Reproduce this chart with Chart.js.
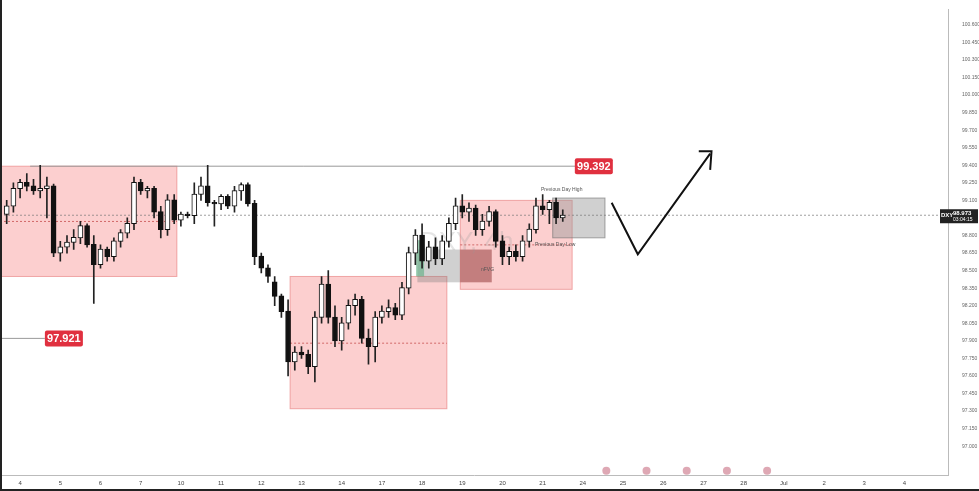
<!DOCTYPE html>
<html><head><meta charset="utf-8">
<script src="https://cdn.jsdelivr.net/npm/chart.js@4"></script>
<style>html,body{margin:0;padding:0;background:#fff}#wrap{width:979px;height:491px}</style>
</head><body><div id="wrap"><canvas id="c" width="979" height="491"></canvas></div>
<script>
const dayLabels = ["4","5","6","7","10","11","12","13","14","17","18","19","20","21","24","25","26","27","28","Jul","2","3","4"];
// [open, high, low, close] per 4h candle
const candles = [
[98.98,99.10,98.90,99.05],[99.05,99.25,99.00,99.20],[99.20,99.28,99.12,99.25],[99.25,99.33,99.18,99.22],
[99.22,99.28,99.15,99.18],[99.18,99.40,99.12,99.20],[99.20,99.30,98.95,99.22],[99.22,99.24,98.62,98.65],
[98.65,98.75,98.58,98.70],[98.70,98.80,98.65,98.74],[98.74,98.85,98.68,98.78],[98.78,98.92,98.73,98.88],
[98.88,98.90,98.70,98.72],[98.72,98.80,98.22,98.55],[98.55,98.72,98.52,98.68],[98.68,98.70,98.58,98.62],
[98.62,98.78,98.58,98.75],[98.75,98.85,98.70,98.82],[98.82,98.95,98.78,98.90],[98.90,99.30,98.85,99.25],
[99.25,99.28,99.15,99.18],[99.18,99.22,99.12,99.20],[99.20,99.22,98.95,99.00],[99.00,99.05,98.78,98.85],
[98.85,99.15,98.80,99.10],[99.10,99.15,98.90,98.93],[98.93,99.00,98.88,98.98],[98.98,99.00,98.95,98.97],
[98.97,99.25,98.90,99.15],[99.15,99.30,99.10,99.22],[99.22,99.40,99.05,99.08],[99.08,99.10,98.88,99.07],
[99.07,99.15,99.02,99.13],[99.13,99.15,99.03,99.05],[99.05,99.22,99.00,99.18],[99.18,99.25,99.10,99.23],
[99.23,99.25,99.05,99.07],[99.07,99.10,98.55,98.62],[98.62,98.65,98.48,98.52],[98.52,98.55,98.40,98.45],
[98.40,98.45,98.20,98.28],[98.28,98.30,98.10,98.15],[98.15,98.25,97.60,97.72],[97.72,97.85,97.65,97.80],
[97.80,97.85,97.75,97.78],[97.78,97.82,97.62,97.68],[97.68,98.15,97.55,98.10],[98.10,98.45,98.05,98.38],
[98.38,98.50,98.05,98.10],[98.10,98.20,97.85,97.90],[97.90,98.10,97.82,98.05],[98.05,98.25,98.00,98.20],
[98.20,98.30,98.12,98.25],[98.25,98.28,97.88,97.92],[97.92,98.00,97.70,97.85],[97.85,98.15,97.72,98.10],
[98.10,98.20,98.05,98.15],[98.15,98.25,98.10,98.18],[98.18,98.22,98.08,98.12],[98.12,98.40,98.08,98.35],
[98.35,98.70,98.30,98.65],[98.65,98.85,98.55,98.80],[98.80,98.90,98.52,98.58],[98.58,98.75,98.52,98.70],
[98.70,98.78,98.55,98.60],[98.60,98.80,98.55,98.75],[98.75,98.95,98.70,98.90],[98.90,99.12,98.85,99.05],
[99.05,99.15,98.95,99.00],[99.00,99.08,98.92,99.03],[99.03,99.06,98.80,98.85],[98.85,98.98,98.80,98.92],
[98.92,99.05,98.88,99.00],[99.00,99.02,98.70,98.75],[98.75,98.80,98.55,98.62],[98.62,98.70,98.55,98.66],
[98.66,98.72,98.58,98.62],[98.62,98.80,98.58,98.75],[98.75,98.90,98.70,98.85],[98.85,99.12,98.82,99.05],
[99.05,99.15,98.98,99.02],[99.02,99.10,98.90,99.08],[99.08,99.12,98.90,98.95],[98.95,99.02,98.92,98.97]
];
const lastPrice = 98.973;
const levelHigh = 99.392, levelLow = 97.921;

const wicks = candles.map((c,i)=>({x:i,y:[c[2],c[1]]}));
const bodies = candles.map((c,i)=>({x:i,y:[Math.min(c[0],c[3]),Math.max(c[0],c[3])+0.004]}));
const bodyFill = candles.map(c=>c[3]>=c[0]?'#ffffff':'#111111');

const overlay = {
  id:'overlay',
  beforeDatasetsDraw(ch){
    const {ctx, scales:{x,y}, chartArea:a} = ch;
    const X=v=>x.getPixelForValue(v), Y=v=>y.getPixelForValue(v);
    ctx.save();
    const box=(x0,x1,p0,p1,fill,stroke)=>{ctx.fillStyle=fill;ctx.fillRect(X(x0),Y(p0),X(x1)-X(x0),Y(p1)-Y(p0));
      if(stroke){ctx.strokeStyle=stroke;ctx.lineWidth=1;ctx.strokeRect(X(x0),Y(p0),X(x1)-X(x0),Y(p1)-Y(p0));}};
    box(-1,25.4,99.392,98.45,'rgba(250,160,160,0.5)','rgba(230,120,120,0.6)');
    box(42.3,65.7,98.45,97.32,'rgba(250,160,160,0.5)','rgba(230,120,120,0.6)');
    box(67.7,84.4,99.10,98.34,'rgba(250,160,160,0.5)','rgba(230,120,120,0.6)');
    box(61.3,67.7,98.68,98.40,'rgba(120,120,120,0.35)',null);
    box(61.1,62.3,98.76,98.45,'rgba(80,170,120,0.55)',null);
    box(67.7,72.4,98.68,98.40,'rgba(150,60,60,0.55)',null);
    box(81.5,89.3,99.12,98.78,'rgba(150,150,150,0.45)','rgba(110,110,110,0.6)');
    ctx.setLineDash([2,2]);ctx.strokeStyle='rgba(200,80,80,0.8)';ctx.lineWidth=1;
    [[-1,25.4,98.92],[42.3,65.7,97.88],[67.7,84.4,98.72]].forEach(s=>{ctx.beginPath();ctx.moveTo(X(s[0]),Y(s[2]));ctx.lineTo(X(s[1]),Y(s[2]));ctx.stroke();});
    ctx.strokeStyle='rgba(120,120,120,0.7)';
    ctx.beginPath();ctx.moveTo(a.left,Y(lastPrice));ctx.lineTo(a.right,Y(lastPrice));ctx.stroke();
    ctx.setLineDash([]);
    ctx.strokeStyle='#999';ctx.beginPath();ctx.moveTo(X(3.5),Y(levelHigh));ctx.lineTo(X(85),Y(levelHigh));ctx.stroke();
    ctx.beginPath();ctx.moveTo(a.left,Y(levelLow));ctx.lineTo(X(5.7),Y(levelLow));ctx.stroke();
    ctx.fillStyle='rgba(150,150,150,0.25)';ctx.font='26px "Liberation Sans"';ctx.fillText('DXY, 4h',420,250);
    ctx.fillStyle='#555';ctx.font='5px "Liberation Sans"';
    ctx.fillText('Previous Day High',541,191);ctx.fillText('Previous Day Low',535,246);ctx.fillText('nFVG',481,271);
    ctx.restore();
  },
  afterDatasetsDraw(ch){
    const {ctx, scales:{x,y}, chartArea:a} = ch;
    const X=v=>x.getPixelForValue(v), Y=v=>y.getPixelForValue(v);
    ctx.save();
    const tag=(px,p,t)=>{ctx.fillStyle='#e0303f';ctx.beginPath();ctx.roundRect(px,Y(p)-8,38,16,2);ctx.fill();
      ctx.fillStyle='#fff';ctx.font='bold 11px "Liberation Sans"';ctx.textAlign='center';ctx.textBaseline='middle';ctx.fillText(t,px+19,Y(p)+1);};
    tag(X(84.8),levelHigh,levelHigh.toFixed(3));
    tag(X(5.7),levelLow,levelLow.toFixed(3));
    ctx.strokeStyle='#111';ctx.lineWidth=2;ctx.beginPath();
    ctx.moveTo(X(90.3),Y(99.08));ctx.lineTo(X(94.2),Y(98.64));ctx.lineTo(X(105),Y(99.50));ctx.stroke();
    ctx.beginPath();ctx.moveTo(X(103.3),Y(99.52));ctx.lineTo(X(105.2),Y(99.52));ctx.lineTo(X(105),Y(99.36));ctx.stroke();
    ctx.fillStyle='#222';ctx.fillRect(a.right-8,Y(lastPrice)-6,38,14);
    ctx.fillStyle='#fff';ctx.font='bold 6px "Liberation Sans"';ctx.textBaseline='middle';ctx.textAlign='left';
    ctx.fillText('DXY',a.right-7,Y(lastPrice));ctx.fillText(lastPrice.toFixed(3),a.right+5,Y(lastPrice)-2);
    ctx.font='5px "Liberation Sans"';ctx.fillText('03:04:15',a.right+5,Y(lastPrice)+4);
    [89.5,95.5,101.5,107.5,113.5].forEach(v=>{ctx.fillStyle='rgba(200,110,130,0.6)';ctx.beginPath();ctx.arc(X(v),a.bottom-5,4,0,Math.PI*2);ctx.fill();});
    ctx.strokeStyle='#222';ctx.lineWidth=2;ctx.beginPath();ctx.moveTo(1,0);ctx.lineTo(1,491);ctx.moveTo(0,490);ctx.lineTo(979,490);ctx.stroke();
    ctx.restore();
  }
};

new Chart(document.getElementById('c'),{
  type:'bar',
  data:{datasets:[
    {data:bodies,backgroundColor:bodyFill,borderColor:'#111',borderWidth:1,barThickness:5,grouped:false,order:1,borderSkipped:false},
    {data:wicks,backgroundColor:'#222',barThickness:1,grouped:false,order:2}
  ]},
  options:{
    responsive:false,animation:false,
    layout:{padding:{left:0,right:0,top:-10,bottom:0}},
    plugins:{legend:{display:false},tooltip:{enabled:false}},
    scales:{
      x:{type:'linear',offset:false,min:-1,max:140.5,grid:{display:false,offset:false,drawTicks:false,tickLength:0},border:{color:'#bbb'},
        afterBuildTicks(s){s.ticks=dayLabels.map((l,i)=>({value:2+i*6}));},
        ticks:{autoSkip:false,maxRotation:0,padding:4,font:{size:6,family:'Liberation Sans'},color:'#444',callback:(v,i)=>dayLabels[i]}},
      y:{position:'right',min:96.747,max:100.735,grid:{display:false},border:{color:'#bbb'},
        afterBuildTicks(s){const t=[];for(let v=97.0;v<=100.7;v+=0.15)t.push({value:+v.toFixed(3)});s.ticks=t;},
        ticks:{font:{size:5,family:'Liberation Sans'},color:'#666',padding:6,callback:v=>v.toFixed(3)},
        afterFit(s){s.width=31;}}
    }
  },
  plugins:[overlay]
});
</script></body></html>
